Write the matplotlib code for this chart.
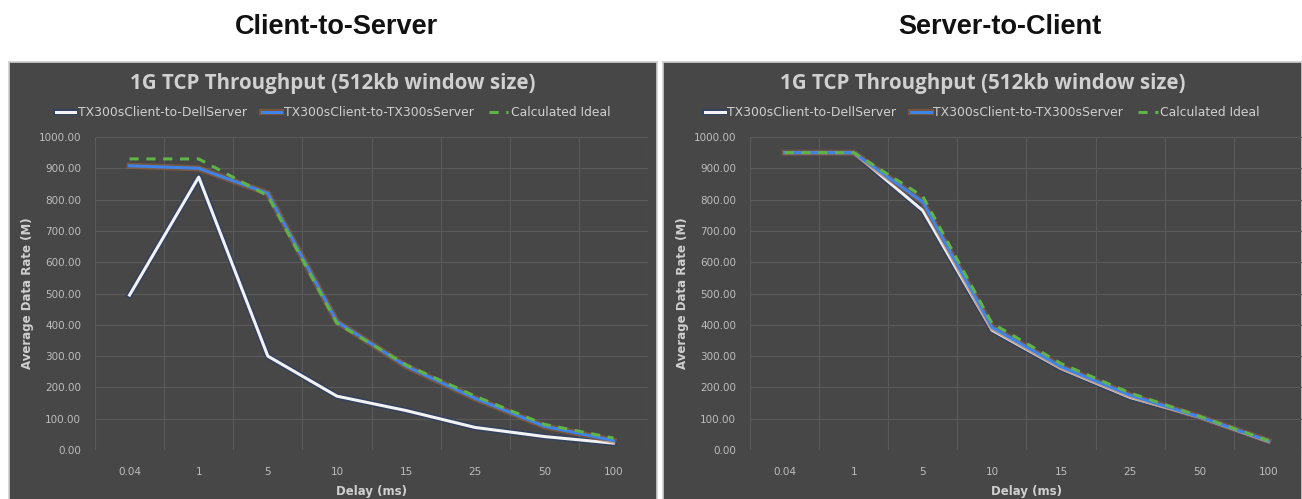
import numpy as np
import matplotlib
matplotlib.use("Agg")
from matplotlib import pyplot as plt
from matplotlib import patheffects as pe

delays = ["0.04", "1", "5", "10", "15", "25", "50", "100"]
series_names = ["TX300sClient-to-DellServer", "TX300sClient-to-TX300sServer", "Calculated Ideal"]

# Client-to-Server
c2s_dell = [495, 872, 300, 172, 126, 72, 43, 22]
c2s_tx300 = [908, 900, 820, 410, 268, 165, 76, 30]
c2s_ideal = [930, 930, 812, 405, 272, 172, 82, 38]

# Server-to-Client
s2c_dell = [950, 950, 765, 383, 260, 168, 105, 27]
s2c_tx300 = [950, 950, 792, 392, 266, 175, 106, 29]
s2c_ideal = [950, 950, 810, 405, 276, 182, 108, 30]

W, H = 1302, 499
PANEL = "#474747"
GRID = "#5a5a5a"
TXT = "#d0d0d0"
TICK = "#bdbdbd"

fig = plt.figure(figsize=(W / 100, H / 100), dpi=100)
fig.patch.set_facecolor("white")


def px(x0, y0, x1, y1):
    # pixel box (top-left origin) -> figure fraction rect
    return [x0 / W, 1 - y1 / H, (x1 - x0) / W, (y1 - y0) / H]


def panel(px0, px1, ax_x0, header, dell, tx300, ideal):
    bg = fig.add_axes(px(px0, 62, px1, H + 2), zorder=0)
    bg.set_facecolor(PANEL)
    bg.set_xticks([])
    bg.set_yticks([])
    for s in bg.spines.values():
        s.set_color("#cfcfcf")
        s.set_linewidth(1.2)

    cx = (px0 + px1) / 2
    fig.text(header[0] / W, 1 - 27 / H, header[1], ha="center", va="center",
             fontsize=19.5, fontweight="bold", family="Liberation Sans", color="#111111")
    fig.text(cx / W, 1 - 84 / H, "1G TCP Throughput (512kb window size)", ha="center",
             va="center", fontsize=14.8, fontweight="bold", family="Open Sans", color=TXT,
             zorder=5)

    ax = fig.add_axes(px(ax_x0, 137, ax_x0 + 553, 450), zorder=1)
    ax.set_facecolor("none")
    x = np.arange(len(delays))
    l1, = ax.plot(x, dell, color="#f2f2f2", lw=2.2, zorder=3,
                  path_effects=[pe.Stroke(linewidth=4.5, foreground="#2c3e66", alpha=0.7), pe.Normal()])
    l2, = ax.plot(x, tx300, color="#3f83e6", lw=2.2, zorder=4,
                  path_effects=[pe.Stroke(linewidth=4.5, foreground="#a0623a", alpha=0.55), pe.Normal()])
    l3, = ax.plot(x, ideal, color="#5fb347", lw=2.2, ls=(0, (3, 2.5)), zorder=5)
    ax.set_xlim(-0.5, len(delays) - 0.5)
    ax.set_ylim(0, 1000)
    ax.set_yticks(np.arange(0, 1001, 100))
    ax.set_yticklabels(["%.2f" % v for v in np.arange(0, 1001, 100)])
    ax.set_xticks(x)
    ax.set_xticklabels(delays)
    ax.set_xticks(np.arange(-0.5, len(delays)), minor=True)
    ax.grid(True, axis="y", which="major", color=GRID, lw=0.8)
    ax.grid(True, axis="x", which="minor", color=GRID, lw=0.8)
    ax.tick_params(which="both", length=0, colors=TICK, labelsize=7.5)
    ax.tick_params(axis="x", pad=12)
    ax.tick_params(axis="y", pad=10)
    for s in ax.spines.values():
        s.set_visible(False)
    ax.set_xlabel("Delay (ms)", color=TXT, fontsize=8.5, fontweight="bold", labelpad=6)
    ax.set_ylabel("Average Data Rate (M)", color=TXT, fontsize=8.5, fontweight="bold", labelpad=3)
    leg = fig.legend([l1, l2, l3], series_names, loc="center", ncol=3,
                     bbox_to_anchor=(cx / W, 1 - 113 / H), frameon=False, fontsize=8.9,
                     labelcolor=TXT, handlelength=1.6, handletextpad=0.2, columnspacing=1.2)
    leg.set_zorder(5)
    return ax


panel(9, 657, 95, (336, "Client-to-Server"), c2s_dell, c2s_tx300, c2s_ideal)
panel(663, 1302, 750, (1000, "Server-to-Client"), s2c_dell, s2c_tx300, s2c_ideal)

fig.savefig("out.png", dpi=100)
